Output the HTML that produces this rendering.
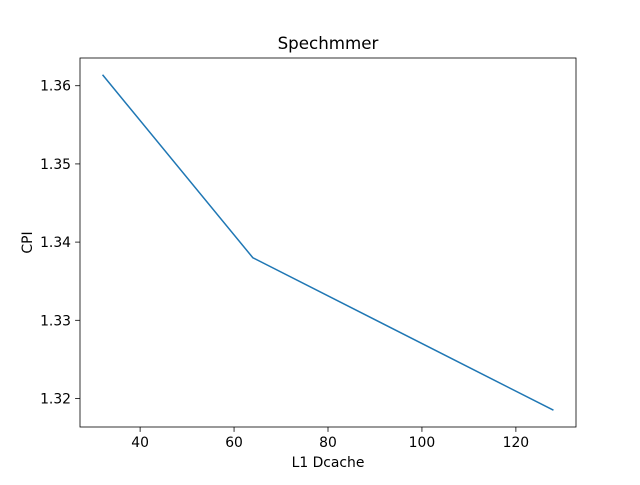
<!DOCTYPE html>
<html><head><meta charset="utf-8"><style>
body{margin:0;background:#fff}
svg text{font-family:"DejaVu Sans","Liberation Sans",sans-serif;fill:#000}
</style></head><body>
<svg width="640" height="480" xmlns="http://www.w3.org/2000/svg">
<rect width="640" height="480" fill="#fff"/>
<g id="plot"></g>
<script>
const xValues=[32,64,128];
const yValues=[1.3614,1.3380,1.3185];
const xTicks=[40,60,80,100,120];
const yTicks=[1.32,1.33,1.34,1.35,1.36];
const yTickLabels=["1.32","1.33","1.34","1.35","1.36"];
const L=80,R=576,T=58,B=427;
const xmn=Math.min(...xValues),xmx=Math.max(...xValues),xm=(xmx-xmn)*0.05;
const ymn=Math.min(...yValues),ymx=Math.max(...yValues),ym=(ymx-ymn)*0.05;
const sx=v=>L+(v-(xmn-xm))/((xmx+xm)-(xmn-xm))*(R-L);
const sy=v=>B-(v-(ymn-ym))/((ymx+ym)-(ymn-ym))*(B-T);
const NS="http://www.w3.org/2000/svg";
const g=document.getElementById('plot');
function mk(t,a,txt){const e=document.createElementNS(NS,t);for(const k in a)e.setAttribute(k,a[k]);if(txt!==undefined)e.textContent=txt;g.appendChild(e);return e;}
xTicks.forEach(v=>{const x=sx(v);
const t=mk('line',{x1:x,x2:x,y1:B,y2:B+4.9,stroke:'#000','stroke-width':0.8});


const l=mk('text',{x:x,y:B+20,'text-anchor':'middle','font-size':13.9},String(v));

});
yTicks.forEach((v,i)=>{const y=sy(v);
const t=mk('line',{x1:L-4.9,x2:L,y1:y,y2:y,stroke:'#000','stroke-width':0.8});


const l=mk('text',{x:L-9,y:y+5,'text-anchor':'end','font-size':13.9},yTickLabels[i]);

});
const pts=xValues.map((x,i)=>sx(x)+','+sy(yValues[i])).join(' ');
const line=mk('polyline',{points:pts,fill:'none',stroke:'#1f77b4','stroke-width':1.5});


const fr=mk('rect',{x:L,y:T,width:R-L,height:B-T,fill:'none',stroke:'#000','stroke-width':0.8});


const ti=mk('text',{x:(L+R)/2,y:T-9,'text-anchor':'middle','font-size':16.7},'Spechmmer');


const xl=mk('text',{x:(L+R)/2,y:467,'text-anchor':'middle','font-size':13.9},'L1 Dcache');


const yl=mk('text',{x:0,y:0,'text-anchor':'middle','font-size':13.9,transform:'translate(32,'+((T+B)/2)+') rotate(-90)'},'CPI');


</script>
</svg>
</body></html>
